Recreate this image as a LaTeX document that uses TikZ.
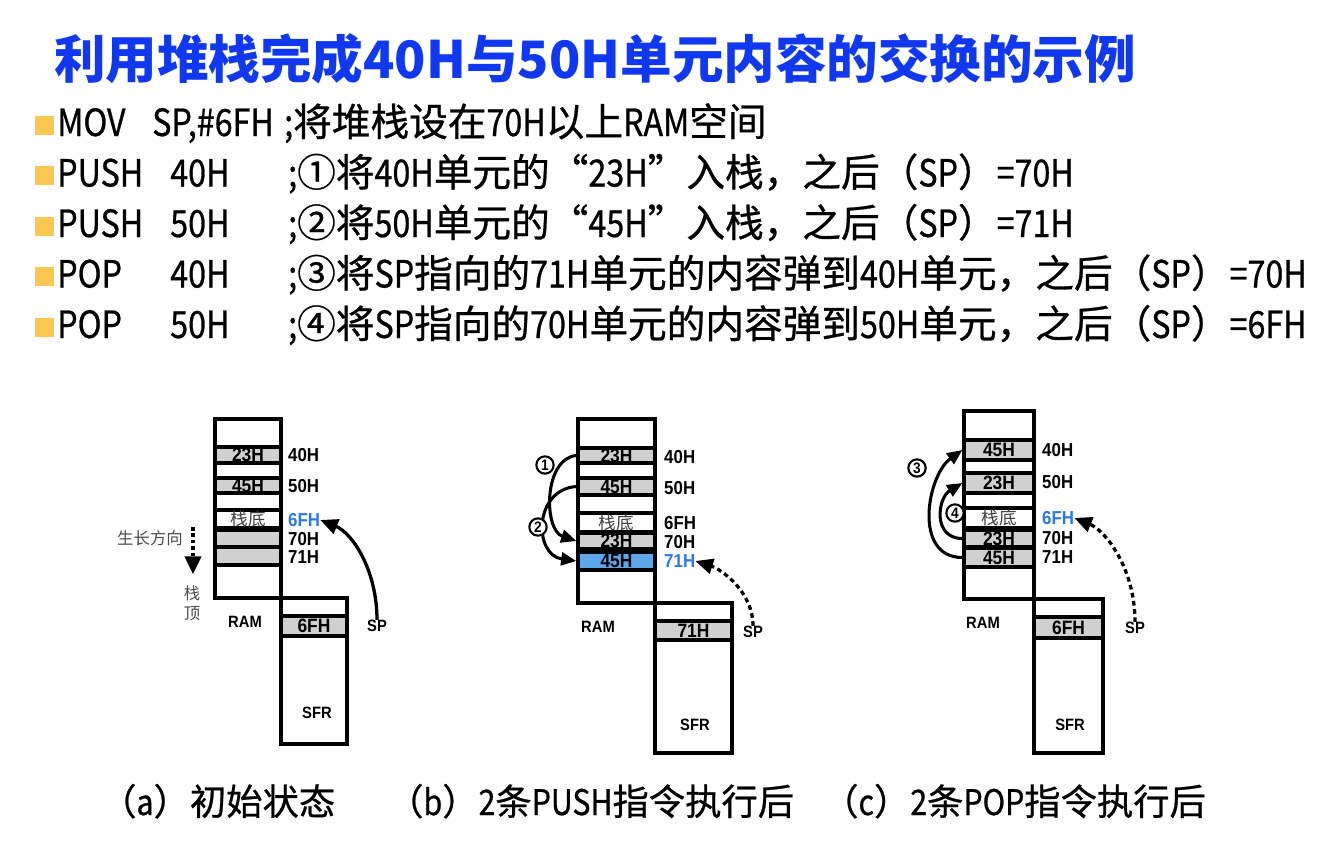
\documentclass[tikz,border=0pt]{standalone}
\usepackage{fontspec}
\setmainfont{Noto Sans CJK SC}
\newfontfamily\cjk{Noto Sans CJK SC}
\newfontfamily\cjkm[FakeBold=0.7]{Noto Sans CJK SC}
\newfontfamily\hw[Scale=0.97,FakeStretch=0.86,FakeBold=0.7]{Noto Sans CJK SC}
\newfontfamily\dfont[FakeStretch=0.9]{Liberation Sans}
\newcommand{\hf}[1]{{\hw #1}}
\usetikzlibrary{positioning, arrows.meta, fit}
\definecolor{titleblue}{RGB}{16,56,240}
\definecolor{bulletyellow}{RGB}{250,200,80}
\definecolor{cellgray}{RGB}{208,208,208}
\definecolor{cellblue}{RGB}{92,166,234}
\definecolor{addrblue}{RGB}{40,120,240}
\tikzset{
    title/.style={anchor=west, inner sep=0pt, text=titleblue, font=\cjk\bfseries\fontsize{44}{44}\selectfont},
    bullet/.style={rectangle, fill=bulletyellow, minimum size=0.57cm, inner sep=0pt},
    code/.style={anchor=base west, inner sep=0pt, font=\hw\fontsize{33}{33}\selectfont},
    comment/.style={anchor=base west, inner sep=0pt, font=\cjkm\fontsize{33}{33}\selectfont},
    caption/.style={anchor=base west, inner sep=0pt, font=\cjkm\fontsize{31}{31}\selectfont},
    memory/.style={draw=black, line width=3pt, inner sep=0pt, fill=white},
    cell/.style={draw=black, line width=2.8pt, inner sep=0pt, fill=cellgray},
    bottomcell/.style={cell, fill=white},
    pushed/.style={cell, fill=cellblue},
    celltext/.style={inner sep=0pt, font=\dfont\bfseries\fontsize{16.5}{16.5}\selectfont},
    bottomtext/.style={inner sep=0pt, text=black!75, font=\cjk\fontsize{15}{15}\selectfont},
    addr/.style={anchor=west, inner sep=0pt, font=\dfont\bfseries\fontsize{16}{16}\selectfont},
    tag/.style={inner sep=0pt, font=\dfont\bfseries\fontsize{14}{14}\selectfont},
    hint/.style={inner sep=0pt, text=black!70, font=\cjk\fontsize{14}{17}\selectfont, align=center},
    stepnum/.style={circle, draw=black, line width=1.8pt, fill=white, minimum size=0.52cm, inner sep=0pt, font=\dfont\bfseries\fontsize{13}{13}\selectfont},
    sparrow/.style={line width=2.8pt, -{Triangle[length=15pt, width=13pt]}},
    movearrow/.style={line width=2.6pt, -{Triangle[length=13pt, width=11pt]}},
    growarrow/.style={line width=2.6pt, dash pattern=on 3pt off 2.5pt, -{Triangle[length=15pt, width=14pt]}}
}

\begin{document}
\begin{tikzpicture}[x=0.03cm, y=-0.03cm]
    \useasboundingbox[fill=white] (0,0) rectangle (1342,864);

    % Title
    \node[title] (title) at (54,59) {利用堆栈完成40H与50H单元内容的交换的示例};

    % Program lines
    \foreach \i in {0,...,4}
        \node[bullet] (bul\i) at (44.5,125+50.5*\i) {};
    \node[code] (op1) at (57,136) {MOV};
    \node[code] (arg1) at (152,136) {SP,\#6FH};
    \node[comment] (note1) at (284,136) {\hf{;}将堆栈设在\hf{70H}以上\hf{RAM}空间};
    \node[code] (op2) at (57,186.5) {PUSH};
    \node[code] (arg2) at (170,186.5) {40H};
    \node[comment] (note2) at (288,186.5) {\hf{;}①将\hf{40H}单元的“\hf{23H}”入栈，之后（\hf{SP}）\hf{=70H}};
    \node[code] (op3) at (57,237) {PUSH};
    \node[code] (arg3) at (170,237) {50H};
    \node[comment] (note3) at (288,237) {\hf{;}②将\hf{50H}单元的“\hf{45H}”入栈，之后（\hf{SP}）\hf{=71H}};
    \node[code] (op4) at (57,287.5) {POP};
    \node[code] (arg4) at (170,287.5) {40H};
    \node[comment] (note4) at (288,287.5) {\hf{;}③将\hf{SP}指向的\hf{71H}单元的内容弹到\hf{40H}单元，之后（\hf{SP}）\hf{=70H}};
    \node[code] (op5) at (57,338) {POP};
    \node[code] (arg5) at (170,338) {50H};
    \node[comment] (note5) at (288,338) {\hf{;}④将\hf{SP}指向的\hf{70H}单元的内容弹到\hf{50H}单元，之后（\hf{SP}）\hf{=6FH}};

    % (a) initial state
    \node[memory, fit={(215,419) (281,598)}] (ramA) {};
    \node[memory, fit={(281,598) (347,744)}] (sfrA) {};
    \node[cell, fit={(215,447) (281,463)}] (a40) {};
    \node[cell, fit={(215,478) (281,493)}] (a50) {};
    \node[bottomcell, fit={(215,510) (281,528)}] (a6f) {};
    \node[cell, fit={(215,530) (281,547)}] (a70) {};
    \node[cell, fit={(215,547) (281,565)}] (a71) {};
    \node[cell, fit={(281,616) (347,636)}] (spvalA) {};
    \node[celltext] (ta40) at (a40) {23H};
    \node[celltext] (ta50) at (a50) {45H};
    \node[bottomtext] (ta6f) at (a6f) {栈底};
    \node[celltext] (taspval) at (spvalA) {6FH};
    \node[addr] (la40) at (288,455) {40H};
    \node[addr] (la50) at (288,486) {50H};
    \node[addr, text=addrblue] (la6f) at (288,520) {6FH};
    \node[addr] (la70) at (288,539) {70H};
    \node[addr] (la71) at (288,557) {71H};
    \node[tag] (ramlabA) at (245,622) {RAM};
    \node[tag] (sfrlabA) at (317,713) {SFR};
    \node[tag] (spA) at (377,626) {SP};
    \draw[sparrow] (spA.north) .. controls +(0,-50) and +(32,13) .. (la6f.east);
    \node[hint] (grow) at (150,538) {生长方向};
    \coordinate (growS) at (193,527);
    \coordinate (growE) at (193,574);
    \draw[growarrow] (growS) -- (growE);
    \node[hint] (stacktop) at (192,603) {栈\\顶};

    % (b) after two PUSH
    \node[memory, fit={(578,419) (655,603)}] (ramB) {};
    \node[memory, fit={(655,603) (732,753)}] (sfrB) {};
    \node[cell, fit={(578,448) (655,463)}] (b40) {};
    \node[cell, fit={(578,478) (655,495)}] (b50) {};
    \node[bottomcell, fit={(578,513) (655,532)}] (b6f) {};
    \node[cell, fit={(578,533) (655,549)}] (b70) {};
    \node[pushed, fit={(578,552) (655,570)}] (b71) {};
    \node[cell, fit={(655,621) (732,640)}] (spvalB) {};
    \node[celltext] (tb40) at (b40) {23H};
    \node[celltext] (tb50) at (b50) {45H};
    \node[bottomtext] (tb6f) at (b6f) {栈底};
    \node[celltext] (tb70) at (b70) {23H};
    \node[celltext] (tb71) at (b71) {45H};
    \node[celltext] (tbspval) at (spvalB) {71H};
    \node[addr] (lb40) at (664,457) {40H};
    \node[addr] (lb50) at (664,488) {50H};
    \node[addr] (lb6f) at (664,523) {6FH};
    \node[addr] (lb70) at (664,542) {70H};
    \node[addr, text=addrblue] (lb71) at (664,561) {71H};
    \node[tag] (ramlabB) at (598,627) {RAM};
    \node[tag] (sfrlabB) at (695,725) {SFR};
    \node[tag] (spB) at (753,632) {SP};
    \draw[sparrow, dash pattern=on 4pt off 3pt] (spB.north) .. controls +(0,-35) and +(25,8) .. (lb71.east);
    \draw[movearrow] (b40.west) .. controls +(-33,3) and +(-33,-11) .. (b70.west);
    \draw[movearrow] (b50.west) .. controls +(-43,3) and +(-43,-6) .. (b71.west);
    \node[stepnum] (step1) at (545,465) {1};
    \node[stepnum] (step2) at (538,527) {2};

    % (c) after two POP
    \node[memory, fit={(964,411) (1034,599)}] (ramC) {};
    \node[memory, fit={(1034,599) (1103,753)}] (sfrC) {};
    \node[cell, fit={(964,440) (1034,460)}] (c40) {};
    \node[cell, fit={(964,473) (1034,493)}] (c50) {};
    \node[bottomcell, fit={(964,508) (1034,528)}] (c6f) {};
    \node[cell, fit={(964,530) (1034,547)}] (c70) {};
    \node[cell, fit={(964,548) (1034,567)}] (c71) {};
    \node[cell, fit={(1034,617) (1103,638)}] (spvalC) {};
    \node[celltext] (tc40) at (c40) {45H};
    \node[celltext] (tc50) at (c50) {23H};
    \node[bottomtext] (tc6f) at (c6f) {栈底};
    \node[celltext] (tc70) at (c70) {23H};
    \node[celltext] (tc71) at (c71) {45H};
    \node[celltext] (tcspval) at (spvalC) {6FH};
    \node[addr] (lc40) at (1042,450) {40H};
    \node[addr] (lc50) at (1042,482) {50H};
    \node[addr, text=addrblue] (lc6f) at (1042,518) {6FH};
    \node[addr] (lc70) at (1042,538) {70H};
    \node[addr] (lc71) at (1042,557) {71H};
    \node[tag] (ramlabC) at (983,623) {RAM};
    \node[tag] (sfrlabC) at (1070,725) {SFR};
    \node[tag] (spC) at (1135,628) {SP};
    \draw[sparrow, dash pattern=on 4pt off 3pt] (spC.north) .. controls +(0,-55) and +(30,12) .. (lc6f.east);
    \draw[movearrow] (c71.west) .. controls +(-50,0) and +(-35,25) .. (c40.west);
    \draw[movearrow] (c70.west) .. controls +(-30,0) and +(-25,15) .. (c50.west);
    \node[stepnum] (step3) at (917,468) {3};
    \node[stepnum] (step4) at (955,513) {4};

    % Captions
    \node[caption] (capA) at (100,815) {（\hf{a}）初始状态};
    \node[caption] (capB) at (387,815) {（\hf{b}）\hf{2}条\hf{PUSH}指令执行后};
    \node[caption] (capC) at (822,815) {（\hf{c}）\hf{2}条\hf{POP}指令执行后};
\end{tikzpicture}
\end{document}
